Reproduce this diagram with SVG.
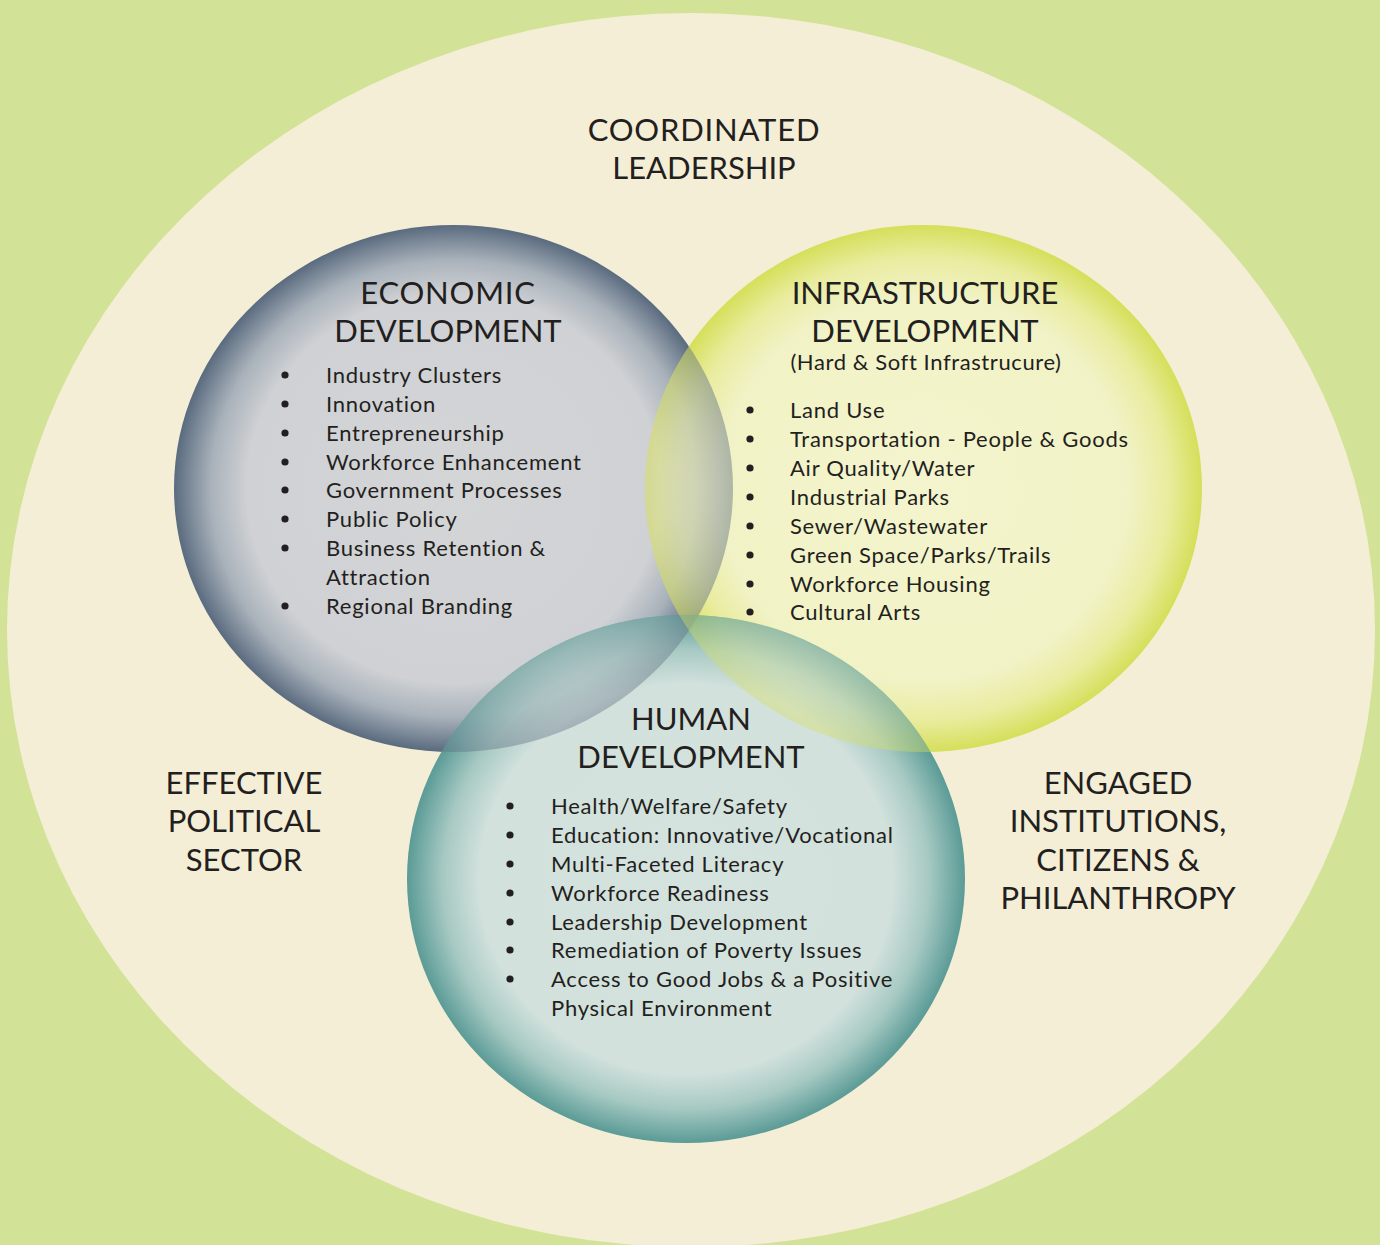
<svg xmlns="http://www.w3.org/2000/svg" width="1380" height="1245" viewBox="0 0 1380 1245">
  <style>
    text { font-family: "Lato", "Open Sans", sans-serif; fill: #231f20; }
    .head { font-size: 31px; text-anchor: middle; }
    .wide { letter-spacing: 0.8px; }
    .sub { font-size: 22px; text-anchor: middle; letter-spacing: 0.6px; }
    .item { font-size: 22px; letter-spacing: 0.75px; }
    .dot { fill: #231f20; }
  </style>
  <defs>
    <radialGradient id="gEcon" cx="0.5" cy="0.5" r="0.5">
      <stop offset="0" stop-color="#d3d5d7"/>
      <stop offset="0.74" stop-color="#cfd1d4"/>
      <stop offset="0.87" stop-color="#a8b1ba"/>
      <stop offset="1" stop-color="#5a6b7f"/>
    </radialGradient>
    <radialGradient id="gInfra" cx="0.5" cy="0.5" r="0.5">
      <stop offset="0" stop-color="#f4f5ce"/>
      <stop offset="0.74" stop-color="#f1f2c5"/>
      <stop offset="0.88" stop-color="#e9ec9e"/>
      <stop offset="1" stop-color="#d6df5a"/>
    </radialGradient>
    <radialGradient id="gHuman" cx="0.5" cy="0.5" r="0.5">
      <stop offset="0" stop-color="#d5e3df"/>
      <stop offset="0.74" stop-color="#d2e1dc"/>
      <stop offset="0.87" stop-color="#a7c9c3"/>
      <stop offset="1" stop-color="#5b9b96"/>
    </radialGradient>
    <clipPath id="clipInfra"><ellipse cx="923.5" cy="488.5" rx="278.5" ry="263.5"/></clipPath>
    <clipPath id="clipHuman"><ellipse cx="686" cy="879" rx="279" ry="264"/></clipPath>
  </defs>

  <!-- backdrop and the leadership field -->
  <rect x="0" y="0" width="1380" height="1245" fill="#d2e397"/>
  <ellipse cx="691" cy="630" rx="684" ry="617" fill="#f5eed6"/>

  <!-- circles, with the overlaps blended -->
  <g id="circles">
    <ellipse cx="453.5" cy="488.5" rx="279.5" ry="263.5" fill="url(#gEcon)"/>
    <ellipse cx="923.5" cy="488.5" rx="278.5" ry="263.5" fill="url(#gInfra)"/>
    <ellipse cx="453.5" cy="488.5" rx="279.5" ry="263.5" fill="url(#gEcon)" opacity="0.45" clip-path="url(#clipInfra)"/>
    <ellipse cx="686" cy="879" rx="279" ry="264" fill="url(#gHuman)"/>
    <ellipse cx="453.5" cy="488.5" rx="279.5" ry="263.5" fill="url(#gEcon)" opacity="0.4" clip-path="url(#clipHuman)"/>
    <ellipse cx="923.5" cy="488.5" rx="278.5" ry="263.5" fill="url(#gInfra)" opacity="0.4" clip-path="url(#clipHuman)"/>
  </g>

  <g id="coordinated-leadership">
    <text class="head wide" x="704" y="141">COORDINATED</text>
    <text class="head" x="704" y="179">LEADERSHIP</text>
  </g>

  <g id="economic-development">
    <text class="head wide" x="448" y="304">ECONOMIC</text>
    <text class="head" x="448" y="342">DEVELOPMENT</text>
    <g class="dot">
      <circle cx="285" cy="375" r="3.6"/><circle cx="285" cy="404" r="3.6"/>
      <circle cx="285" cy="433" r="3.6"/><circle cx="285" cy="462" r="3.6"/>
      <circle cx="285" cy="490" r="3.6"/><circle cx="285" cy="519" r="3.6"/>
      <circle cx="285" cy="548" r="3.6"/><circle cx="285" cy="606" r="3.6"/>
    </g>
    <text class="item" x="326" y="383">Industry Clusters</text>
    <text class="item" x="326" y="412">Innovation</text>
    <text class="item" x="326" y="441">Entrepreneurship</text>
    <text class="item" x="326" y="470">Workforce Enhancement</text>
    <text class="item" x="326" y="498">Government Processes</text>
    <text class="item" x="326" y="527">Public Policy</text>
    <text class="item" x="326" y="556">Business Retention &amp;</text>
    <text class="item" x="326" y="585">Attraction</text>
    <text class="item" x="326" y="614">Regional Branding</text>
  </g>

  <g id="infrastructure-development">
    <text class="head" x="925" y="304">INFRASTRUCTURE</text>
    <text class="head" x="925" y="342">DEVELOPMENT</text>
    <text class="sub" x="926" y="370">(Hard &amp; Soft Infrastrucure)</text>
    <g class="dot">
      <circle cx="750" cy="410" r="3.6"/><circle cx="750" cy="439" r="3.6"/>
      <circle cx="750" cy="468" r="3.6"/><circle cx="750" cy="497" r="3.6"/>
      <circle cx="750" cy="526" r="3.6"/><circle cx="750" cy="555" r="3.6"/>
      <circle cx="750" cy="584" r="3.6"/><circle cx="750" cy="612" r="3.6"/>
    </g>
    <text class="item" x="790" y="418">Land Use</text>
    <text class="item" x="790" y="447">Transportation - People &amp; Goods</text>
    <text class="item" x="790" y="476">Air Quality/Water</text>
    <text class="item" x="790" y="505">Industrial Parks</text>
    <text class="item" x="790" y="534">Sewer/Wastewater</text>
    <text class="item" x="790" y="563">Green Space/Parks/Trails</text>
    <text class="item" x="790" y="592">Workforce Housing</text>
    <text class="item" x="790" y="620">Cultural Arts</text>
  </g>

  <g id="human-development">
    <text class="head" x="691" y="730">HUMAN</text>
    <text class="head" x="691" y="768">DEVELOPMENT</text>
    <g class="dot">
      <circle cx="510" cy="806" r="3.6"/><circle cx="510" cy="835" r="3.6"/>
      <circle cx="510" cy="864" r="3.6"/><circle cx="510" cy="893" r="3.6"/>
      <circle cx="510" cy="922" r="3.6"/><circle cx="510" cy="950" r="3.6"/>
      <circle cx="510" cy="979" r="3.6"/>
    </g>
    <text class="item" x="551" y="814">Health/Welfare/Safety</text>
    <text class="item" x="551" y="843">Education: Innovative/Vocational</text>
    <text class="item" x="551" y="872">Multi-Faceted Literacy</text>
    <text class="item" x="551" y="901">Workforce Readiness</text>
    <text class="item" x="551" y="930">Leadership Development</text>
    <text class="item" x="551" y="958">Remediation of Poverty Issues</text>
    <text class="item" x="551" y="987">Access to Good Jobs &amp; a Positive</text>
    <text class="item" x="551" y="1016">Physical Environment</text>
  </g>

  <g id="effective-political-sector">
    <text class="head" x="244" y="794">EFFECTIVE</text>
    <text class="head" x="244" y="832">POLITICAL</text>
    <text class="head" x="244" y="871">SECTOR</text>
  </g>

  <g id="engaged-institutions">
    <text class="head" x="1118" y="794">ENGAGED</text>
    <text class="head" x="1118" y="832">INSTITUTIONS,</text>
    <text class="head" x="1118" y="871">CITIZENS &amp;</text>
    <text class="head" x="1118" y="909">PHILANTHROPY</text>
  </g>
</svg>
